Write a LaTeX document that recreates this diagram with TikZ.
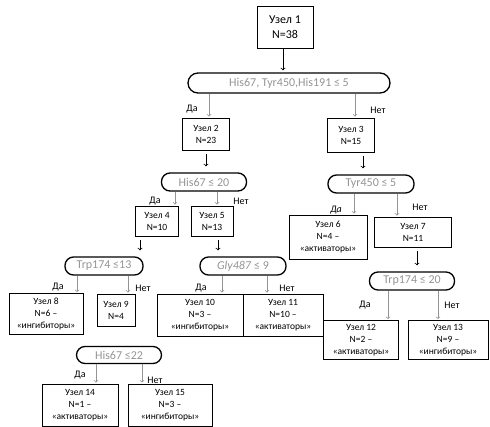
\documentclass[tikz,border=0pt]{standalone}
\usepackage{fontspec}
\setmainfont{Carlito}
\usetikzlibrary{positioning}
\tikzset{>=to}
\colorlet{uslgray}{black!42}
\tikzset{
  uzel/.style={draw, line width=0.9pt, align=center, font=\fontsize{9.5}{12}\selectfont, inner sep=1pt},
  usl/.style={draw=black, line width=1.3pt, rounded corners=8.5pt, text=uslgray, font=\fontsize{12}{14}\selectfont, minimum height=18pt, inner sep=1pt},
  otv/.style={font=\fontsize{10}{12}\selectfont},
  strel/.style={->, line width=0.8pt, black, shorten <=4pt, shorten >=6pt},
  serstrel/.style={->, line width=0.7pt, uslgray, shorten >=1pt}
}

\begin{document}
\begin{tikzpicture}[x=1pt,y=-1pt]
\useasboundingbox (0,0) rectangle (490,426);
% uzly
\node[uzel, font=\fontsize{12}{15}\selectfont, minimum width=56pt, minimum height=42pt] (u1) at (285,27) {Узел 1\\N=38};
\node[usl, minimum width=202pt, minimum height=20pt, rounded corners=10pt] (usl1) at (289,83) {His67, Tyr450,His191 ≤ 5};
\node[uzel, minimum width=47pt, minimum height=32pt] (u2) at (206,134) {Узел 2\\N=23};
\node[uzel, minimum width=47pt, minimum height=34pt] (u3) at (351,135) {Узел 3\\N=15};
\node[usl, minimum width=85pt] (usl2) at (204,182) {His67 ≤ 20};
\node[usl, minimum width=86pt] (usl3) at (371,184) {Tyr450 ≤ 5};
\node[uzel, minimum width=43pt, minimum height=30pt] (u4) at (157,221) {Узел 4\\N=10};
\node[uzel, minimum width=42pt, minimum height=30pt] (u5) at (212,221) {Узел 5\\N=13};
\node[uzel, minimum width=78pt, minimum height=44pt] (u6) at (328,237) {Узел 6\\N=4 –\\«активаторы»};
\node[uzel, minimum width=77pt, minimum height=30pt] (u7) at (413,232) {Узел 7\\N=11};
\node[usl, minimum width=78pt] (usl4) at (104,266) {Trp174 ≤13};
\node[usl, minimum width=86pt] (usl5) at (243,266) {\textit{Gly487} ≤ 9};
\node[usl, minimum width=85pt] (usl7) at (412,281) {Trp174 ≤ 20};
\node[uzel, minimum width=74pt, minimum height=41pt] (u8) at (46,314) {Узел 8\\N=6 –\\«ингибиторы»};
\node[uzel, minimum width=38pt, minimum height=32pt] (u9) at (116,310) {Узел 9\\N=4};
\node[uzel, minimum width=86pt, minimum height=42pt] (u10) at (200,315) {Узел 10\\N=3 –\\«ингибиторы»};
\node[uzel, minimum width=80pt, minimum height=42pt] (u11) at (283,315) {Узел 11\\N=10 –\\«активаторы»};
\node[uzel, minimum width=75pt, minimum height=39pt] (u12) at (361,340) {Узел 12\\N=2 –\\«активаторы»};
\node[uzel, minimum width=80pt, minimum height=39pt] (u13) at (448,340) {Узел 13\\N=9 –\\«ингибиторы»};
\node[usl, minimum width=85pt, minimum height=17pt] (usl6) at (119,355) {His67 ≤22};
\node[uzel, minimum width=76pt, minimum height=42pt] (u14) at (80,405) {Узел 14\\N=1 –\\«активаторы»};
\node[uzel, minimum width=84pt, minimum height=42pt] (u15) at (170,405) {Узел 15\\N=3 –\\«ингибиторы»};
% chernye strelki
\coordinate (c1) at ([xshift=-2pt]u1.south);
\coordinate (c3) at ([xshift=12pt]u3.south);
\coordinate (c4) at ([xshift=-17pt]u4.south);
\coordinate (c5) at ([xshift=6pt]u5.south);
\coordinate (c7) at ([xshift=4pt]u7.south);
\draw[->, line width=0.8pt, shorten >=2pt] (c1) -- (c1 |- usl1.north);
\draw[strel] (u2.south) -- (u2.south |- usl2.north);
\draw[strel] (c3) -- (c3 |- usl3.north);
\draw[strel] (c4) -- (c4 |- usl4.north);
\draw[strel] (c5) -- (c5 |- usl5.north);
\draw[strel] (c7) -- (c7 |- usl7.north);
% serye strelki
\coordinate (d2) at ([xshift=-80pt]usl1.south);
\coordinate (d3) at ([xshift=66pt]usl1.south);
\coordinate (d4) at ([xshift=-29pt]usl2.south);
\coordinate (d5) at ([xshift=13pt]usl2.south);
\coordinate (d6) at ([xshift=-17pt]usl3.south);
\coordinate (d7) at ([xshift=26pt]usl3.south);
\coordinate (d8) at ([xshift=-27pt]usl4.south);
\coordinate (d9) at ([xshift=24pt]usl4.south);
\coordinate (d10) at ([xshift=-21pt]usl5.south);
\coordinate (d11) at ([xshift=24pt]usl5.south);
\coordinate (d12) at ([xshift=-24pt]usl7.south);
\coordinate (d13) at ([xshift=26pt]usl7.south);
\coordinate (d14) at ([xshift=-23pt]usl6.south);
\coordinate (d15) at ([xshift=23pt]usl6.south);
\foreach \a/\b in {d2/u2, d3/u3, d4/u4, d5/u5, d6/u6, d7/u7, d8/u8, d9/u9, d10/u10, d11/u11, d12/u12, d13/u13, d14/u14, d15/u15}
  \draw[serstrel] (\a) -- (\a |- \b.north);
% da / net
\node[otv] (da1) at (192,109) {Да};
\node[otv] (net1) at (378,110) {Нет};
\node[otv] (da2) at (155,201) {Да};
\node[otv] (net2) at (241,201) {Нет};
\node[otv] (da3) at (336,210) {\textit{Да}};
\node[otv] (net3) at (420,207) {Нет};
\node[otv] (da4) at (58,287) {Да};
\node[otv] (net4) at (143,288) {Нет};
\node[otv] (da5) at (201,288) {Да};
\node[otv] (net5) at (287,288) {Нет};
\node[otv] (da7) at (365,305) {Да};
\node[otv] (net7) at (452,305) {Нет};
\node[otv] (da6) at (80,375) {Да};
\node[otv] (net6) at (155,380) {Нет};
\end{tikzpicture}
\end{document}
